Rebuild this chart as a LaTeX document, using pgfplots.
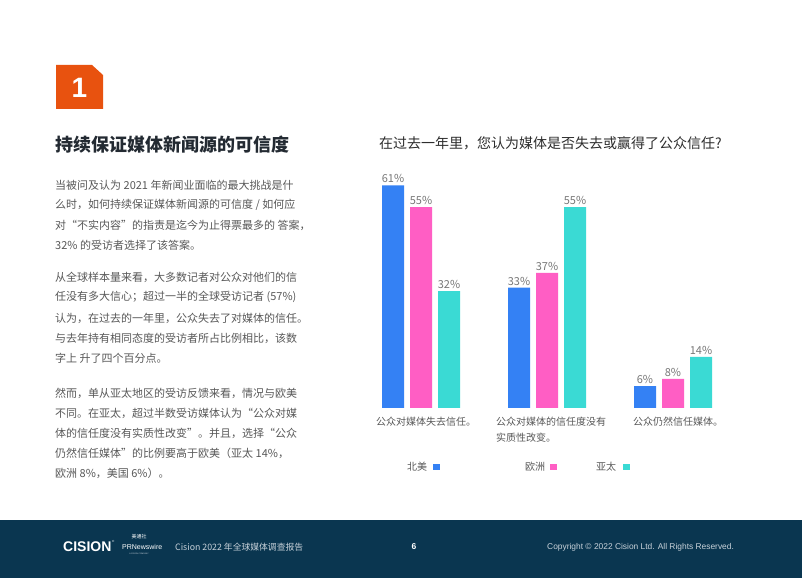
\documentclass[border=0pt]{standalone}
\usepackage{pgfplots}
\pgfplotsset{compat=1.18}
\usepackage{fontspec}
\setmainfont{Noto Sans CJK SC}
\newfontfamily\lib{Liberation Sans}
\definecolor{cblue}{RGB}{52,129,244}
\definecolor{cpink}{RGB}{255,94,196}
\definecolor{cteal}{RGB}{58,218,212}
\definecolor{corange}{RGB}{232,82,15}
\definecolor{navy}{RGB}{10,54,80}
\definecolor{txt}{RGB}{88,88,88}
\definecolor{head}{RGB}{35,42,50}
\definecolor{foot}{RGB}{200,210,218}
\begin{document}
\begin{tikzpicture}[x=1pt,y=1pt]
\fill[white] (0,0) rectangle (802,578);
\fill[navy] (0,0) rectangle (802,58);
% number badge
\fill[corange] (56,513) -- (92,513) -- (103,503) -- (103,469) -- (56,469) -- cycle;
\node[white,font=\lib\bfseries\fontsize{28}{30}\selectfont] at (79.5,490) {1};
% heading
\node[anchor=west,inner sep=0,text=head,font=\bfseries\fontsize{18}{20}\selectfont] at (55,433) {持续保证媒体新闻源的可信度};
% paragraphs
\begin{scope}[every node/.style={anchor=west,inner sep=0,text=txt,font=\fontsize{11}{13}\selectfont}]
\node at (55,393) {当被问及认为 2021 年新闻业面临的最大挑战是什};
\node at (55,373) {么时，如何持续保证媒体新闻源的可信度 / 如何应};
\node at (55,353) {对“不实内容”的指责是迄今为止得票最多的 答案，};
\node at (55,333) {32\% 的受访者选择了该答案。};
\node at (55,301) {从全球样本量来看，大多数记者对公众对他们的信};
\node at (55,281) {任没有多大信心；超过一半的全球受访记者 (57\%)};
\node at (55,260) {认为，在过去的一年里，公众失去了对媒体的信任。};
\node at (55,240) {与去年持有相同态度的受访者所占比例相比，该数};
\node at (55,220) {字上 升了四个百分点。};
\node at (55,185) {然而，单从亚太地区的受访反馈来看，情况与欧美};
\node at (55,165) {不同。在亚太，超过半数受访媒体认为“公众对媒};
\node at (55,145) {体的信任度没有实质性改变”。并且，选择“公众};
\node at (55,125) {仍然信任媒体”的比例要高于欧美（亚太 14\%，};
\node at (55,105) {欧洲 8\%，美国 6\%）。};
\end{scope}
% chart title
\node[anchor=west,inner sep=0,text={rgb,255:red,45;green,45;blue,45},font=\fontsize{14}{16}\selectfont] at (379,435) {在过去一年里，您认为媒体是否失去或赢得了公众信任?};
\begin{axis}[
  x=126pt, y=3.65pt,
  xmin=-0.6, xmax=2.6, ymin=0, ymax=70,
  anchor=south west, at={(345.4pt,170pt)},
  hide axis, clip=false,
  ybar=6pt, bar width=22pt,
  /pgf/number format/assume math mode=true,
  nodes near coords={\pgfmathprintnumber{\pgfplotspointmeta}\%},
  every node near coord/.append style={font=\fontsize{11}{13}\selectfont, text={rgb,255:red,120;green,120;blue,120}, inner sep=1pt, yshift=1pt},
]
\addplot[fill=cblue,draw=none] coordinates {(0,61) (1,33) (2,6)};
\addplot[fill=cpink,draw=none] coordinates {(0,55) (1,37) (2,8)};
\addplot[fill=cteal,draw=none] coordinates {(0,32) (1,55) (2,14)};
\end{axis}
% category labels
\begin{scope}[every node/.style={anchor=west,inner sep=0,text=txt,font=\fontsize{10}{12}\selectfont}]
\node at (376,156) {公众对媒体失去信任。};
\node at (496,156) {公众对媒体的信任度没有};
\node at (496,140) {实质性改变。};
\node at (633,156) {公众仍然信任媒体。};
% legend
\node at (407,111) {北美};
\node at (525,111) {欧洲};
\node at (596,111) {亚太};
\end{scope}
\fill[cblue] (433,108) rectangle (439.5,114.5);
\fill[cpink] (550,108) rectangle (556.5,114.5);
\fill[cteal] (623,108) rectangle (629.5,114.5);
% footer
\node[anchor=west,inner sep=0,white,font=\lib\bfseries\fontsize{14}{16}\selectfont] at (63,31) {CISION};
\node[anchor=west,inner sep=0,white,font=\lib\fontsize{3}{4}\selectfont] at (112,37) {\textregistered};
\node[inner sep=0,white,font=\fontsize{5}{6}\selectfont] at (139,41) {美通社};
\node[anchor=west,inner sep=0,white,font=\lib\fontsize{7}{8}\selectfont] at (122,31) {PRNewswire};
\node[inner sep=0,foot,font=\lib\fontsize{2}{3}\selectfont] at (139,24.5) {A CISION COMPANY};
\node[anchor=west,inner sep=0,foot,font=\fontsize{8.8}{10}\selectfont] at (175,31) {Cision 2022 年全球媒体调查报告};
\node[inner sep=0,white,font=\lib\bfseries\fontsize{8.5}{10}\selectfont] at (414,31) {6};
\node[anchor=west,inner sep=0,foot,font=\lib\fontsize{8.4}{10}\selectfont] at (547,31) {Copyright © 2022 Cision Ltd. All Rights Reserved.};
\end{tikzpicture}
\end{document}
